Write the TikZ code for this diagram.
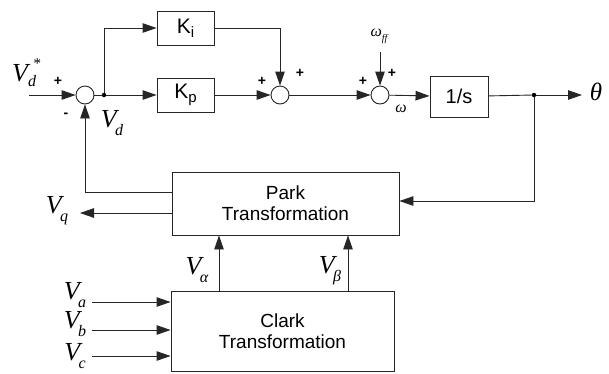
\documentclass[tikz,border=0pt]{standalone}
\usepackage{fontspec}
\setmainfont{Liberation Sans}
\newfontfamily\tmsi{Liberation Serif}[UprightFont=* Italic]
\usetikzlibrary{arrows.meta,calc}
% italic symbol with a lowered subscript
\newcommand{\symsub}[2]{{\fontsize{26}{26}\tmsi #1}\hspace{-1.5pt}\raisebox{-8pt}{\fontsize{16}{16}\tmsi #2}}
% gain with a subscript
\newcommand{\gain}[2]{#1\raisebox{-4pt}{\fontsize{15}{15}\selectfont #2}}
\tikzset{
  blk/.style={draw, line width=0.9pt, inner sep=0pt, font=\fontsize{19}{21}\selectfont, align=center},
  sumc/.style={draw, circle, line width=0.9pt, minimum size=18pt, inner sep=0pt},
  sig/.style={line width=0.9pt, -{Triangle[length=14pt,width=9.5pt]}},
  wire/.style={line width=0.9pt},
  sgn/.style={font=\fontsize{14}{14}\bfseries\selectfont, inner sep=0pt},
  lab/.style={inner sep=0pt},
  dot/.style={circle, fill, inner sep=0pt, minimum size=4.5pt}
}
\begin{document}
\begin{tikzpicture}[x=1pt,y=-1pt, draw=black!85]
\useasboundingbox (0,0) rectangle (609,373);
\fill[white] (0,0) rectangle (609,373);

% blocks
\node[blk, minimum width=57pt, minimum height=34pt, font=\fontsize{21}{21}\selectfont] (ki) at (185.5,28) {\gain{K}{i}};
\node[blk, minimum width=57pt, minimum height=34pt, font=\fontsize{21}{21}\selectfont] (kp) at (185.5,95) {\gain{K}{p}};
\node[blk, minimum width=58pt, minimum height=41pt, font=\fontsize{20}{20}\selectfont] (int) at (459,96.5) {1/s};
\node[blk, minimum width=227pt, minimum height=63pt] (park) at (285.5,203.5) {Park\\Transformation};
\node[blk, minimum width=223pt, minimum height=80pt] (clark) at (282.5,331) {Clark\\Transformation};

% summing junctions
\node[sumc] (s1) at (85,95) {};
\node[sumc] (s2) at (280,95) {};
\node[sumc] (s3) at (380,95) {};

% branch points and free ends
\node[dot] (j1) at (104,95) {};
\node[dot] (j2) at (534,95) {};
\coordinate (vin) at (29,95);
\coordinate (wff) at (380,52);
\coordinate (thout) at (582,95);
\coordinate (vqout) at (80,213);
\coordinate (xa) at (219,0);
\coordinate (xb) at (348,0);
\coordinate (ina) at (92,302);
\coordinate (inb) at (92,330);
\coordinate (inc) at (92,356);

% forward path
\draw[sig] (vin) -- (s1);
\draw[wire] (s1) -- (j1);
\draw[sig] (j1) -- (kp);
\draw[sig] (j1) |- (ki);
\draw[sig] (ki) -| (s2);
\draw[sig] (kp) -- (s2);
\draw[sig] (s2) -- (s3);
\draw[sig] (wff) -- (s3);
\draw[sig] (s3) -- (int);
\draw[wire] (int) -- (j2);
\draw[sig] (j2) -- (thout);

% feedback paths
\draw[sig] (j2) |- ([yshift=2.5pt]park.east);
\draw[sig] ([yshift=11.5pt]park.west) -| (s1);
\draw[sig] ([yshift=-9.5pt]park.west) -- (vqout);
\draw[sig] (clark.north -| xa) -- (park.south -| xa);
\draw[sig] (clark.north -| xb) -- (park.south -| xb);

% three-phase inputs
\draw[sig] (ina) -- (clark.west |- ina);
\draw[sig] (inb) -- (clark.west |- inb);
\draw[sig] (inc) -- (clark.west |- inc);

% signs
\node[sgn] at (58,81) {+};
\node[sgn] at (66,115) {-};
\node[sgn] at (262,81) {+};
\node[sgn] at (300,73) {+};
\node[sgn] at (363,81) {+};
\node[sgn] at (392,73) {+};

% signal labels
\node[lab] (vref) at (20,73) {\fontsize{26}{26}\tmsi V};
\node[lab, anchor=north west] (vrefs) at (29,58) {\fontsize{15}{15}\tmsi\ *};
\node[lab, anchor=north west] (vrefd) at (28,75) {\fontsize{16}{16}\tmsi d};
\node[lab] (vd) at (112,123) {\symsub{V}{d}};
\node[lab] (wffl) at (379,36) {{\fontsize{16}{16}\tmsi ω}\raisebox{-5pt}{\fontsize{10}{10}\tmsi ff}};
\node[lab] (wl) at (401,109) {{\fontsize{16}{16}\tmsi ω}};
\node[lab] (thl) at (596,92) {{\fontsize{25}{25}\tmsi θ}};
\node[lab] (vq) at (57,211) {\symsub{V}{q}};
\node[lab] (val) at (197,270) {\symsub{V}{α}};
\node[lab] (vbe) at (330,271) {\symsub{V}{β}};
\node[lab] (va) at (75,295) {\symsub{V}{a}};
\node[lab] (vb) at (75,324) {\symsub{V}{b}};
\node[lab] (vc) at (75,356) {\symsub{V}{c}};
\end{tikzpicture}
\end{document}
